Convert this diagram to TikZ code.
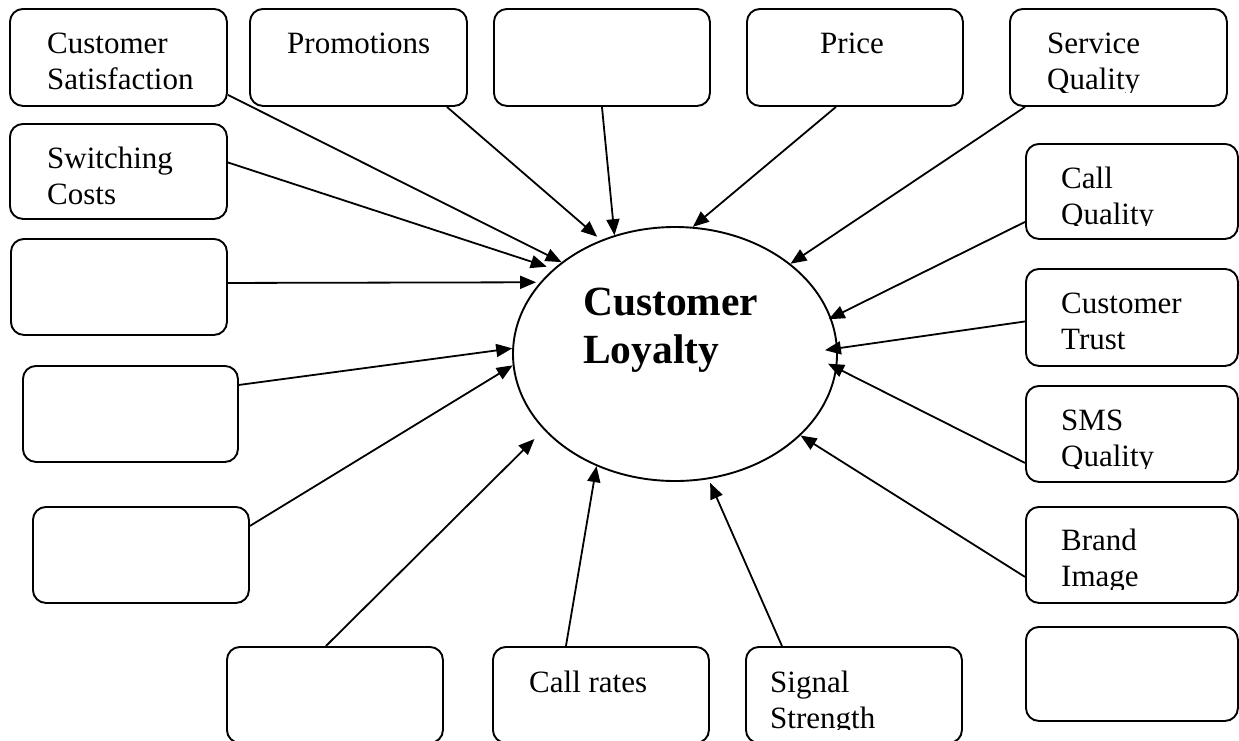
\documentclass[tikz,border=0pt]{standalone}
\usepackage{fontspec}
\setmainfont{Liberation Serif}
\usetikzlibrary{arrows.meta,shapes.geometric}
\begin{document}
\begin{tikzpicture}[x=1pt,y=-1pt,
  box/.style={draw,line width=1.9pt,rounded corners=13pt,inner sep=0pt,anchor=north west},
  lbl/.style={anchor=base west,inner sep=0pt,align=left,font=\fontsize{31}{36}\selectfont},
  arr/.style={line width=1.8pt,-{Triangle[length=16pt,width=13pt]}}]
\fill[white] (0,0) rectangle (1239,740);
\useasboundingbox (0,0) rectangle (1239,740);
% boxes
\node[box,minimum width=217pt,minimum height=97pt] (b1) at (9,8) {};
\node[box,minimum width=217pt,minimum height=97pt] (b2) at (249,8) {};
\node[box,minimum width=216pt,minimum height=97pt] (b3) at (493,8) {};
\node[box,minimum width=216pt,minimum height=97pt] (b4) at (746,8) {};
\node[box,minimum width=217pt,minimum height=97pt] (b5) at (1009,8) {};
\node[box,minimum width=217pt,minimum height=95pt] (b6) at (9,123) {};
\node[box,minimum width=216pt,minimum height=96pt] (b7) at (10,238) {};
\node[box,minimum width=215pt,minimum height=96pt] (b8) at (22,365) {};
\node[box,minimum width=216pt,minimum height=96pt] (b9) at (32,506) {};
\node[box,minimum width=216pt,minimum height=96pt] (b10) at (226,646) {};
\node[box,minimum width=216pt,minimum height=96pt] (b11) at (492,646) {};
\node[box,minimum width=216pt,minimum height=96pt] (b12) at (745,646) {};
\node[box,minimum width=212pt,minimum height=95pt] (b13) at (1025,143) {};
\node[box,minimum width=212pt,minimum height=97pt] (b14) at (1025,268) {};
\node[box,minimum width=212pt,minimum height=96pt] (b15) at (1025,385) {};
\node[box,minimum width=212pt,minimum height=96pt] (b16) at (1025,506) {};
\node[box,minimum width=212pt,minimum height=94pt] (b17) at (1025,626) {};
% texts (anchor = baseline of the last line)
\begin{scope}\clip (b1.north west) rectangle ([yshift=14pt]b1.south east);
\node[lbl] (t1) at (47,89) {Customer\\Satisfaction};\end{scope}
\node[lbl] (t2) at (287,53) {Promotions};
\node[lbl] (t4) at (820,53) {Price};
\begin{scope}\clip (b5.north west) rectangle ([yshift=14pt]b5.south east);
\node[lbl] (t5) at (1047,89) {Service\\Quality};\end{scope}
\begin{scope}\clip (b6.north west) rectangle ([yshift=12pt]b6.south east);
\node[lbl] (t6) at (47,204) {Switching\\Costs};\end{scope}
\node[lbl] (t11) at (529,692) {Call rates};
\begin{scope}\clip (b12.north west) rectangle ([yshift=14pt]b12.south east);
\node[lbl] (t12) at (770,728) {Signal\\Strength};\end{scope}
\begin{scope}\clip (b13.north west) rectangle ([yshift=14pt]b13.south east);
\node[lbl] (t13) at (1061,224) {Call\\Quality};\end{scope}
\begin{scope}\clip (b14.north west) rectangle ([yshift=14pt]b14.south east);
\node[lbl] (t14) at (1061,349) {Customer\\Trust};\end{scope}
\begin{scope}\clip (b15.north west) rectangle ([yshift=14pt]b15.south east);
\node[lbl] (t15) at (1061,466) {SMS\\Quality};\end{scope}
\begin{scope}\clip (b16.north west) rectangle ([yshift=14pt]b16.south east);
\node[lbl] (t16) at (1061,586) {Brand\\Image};\end{scope}
% centre
\node[draw,ellipse,line width=1.9pt,minimum width=324pt,minimum height=254pt,inner sep=0pt] (cl) at (675,354) {};
\node[anchor=base west,inner sep=0pt,align=left,font=\fontsize{41.5}{48}\selectfont\bfseries] (tl) at (583,363) {Customer\\Loyalty};
% connectors
\draw[arr] ([yshift=12pt]b1.south east) -- (cl.141.8);
\draw[arr,shorten >=5pt] ([xshift=-21pt]b2.south east) -- (cl.123.4);
\draw[arr] (b3.south) -- (cl.117);
\draw[arr] ([xshift=-19pt]b4.south) -- (cl.82.9);
\draw[arr] ([xshift=16pt]b5.south west) -- (cl.38.4);
\draw[arr,shorten >=7pt] ([yshift=9pt]b6.east) -- (cl.145.5);
\draw[arr,shorten >=4pt] ([yshift=4pt]b7.east) -- (cl.152.6);
\draw[arr] ([yshift=29pt]b8.east) -- (cl.178.6);
\draw[arr] ([yshift=29pt]b9.east) -- (cl.184.2);
\draw[arr,shorten >=13pt] ([xshift=-9pt]b10.north) -- (cl.210);
\draw[arr] ([xshift=-35pt]b11.north) -- (cl.235.1);
\draw[arr,shorten >=4pt] ([xshift=-72pt]b12.north) -- (cl.285);
\draw[arr,shorten >=-3pt] ([yshift=18pt]b13.south west) -- (cl.13.5);
\draw[arr,shorten >=-13pt] ([yshift=-4pt]b14.west) -- (cl.2.3);
\draw[arr,shorten >=-10pt] ([yshift=20pt]b15.south west) -- (cl.-5.3);
\draw[arr] ([yshift=27pt]b16.south west) -- (cl.-33.9);
\end{tikzpicture}
\end{document}
